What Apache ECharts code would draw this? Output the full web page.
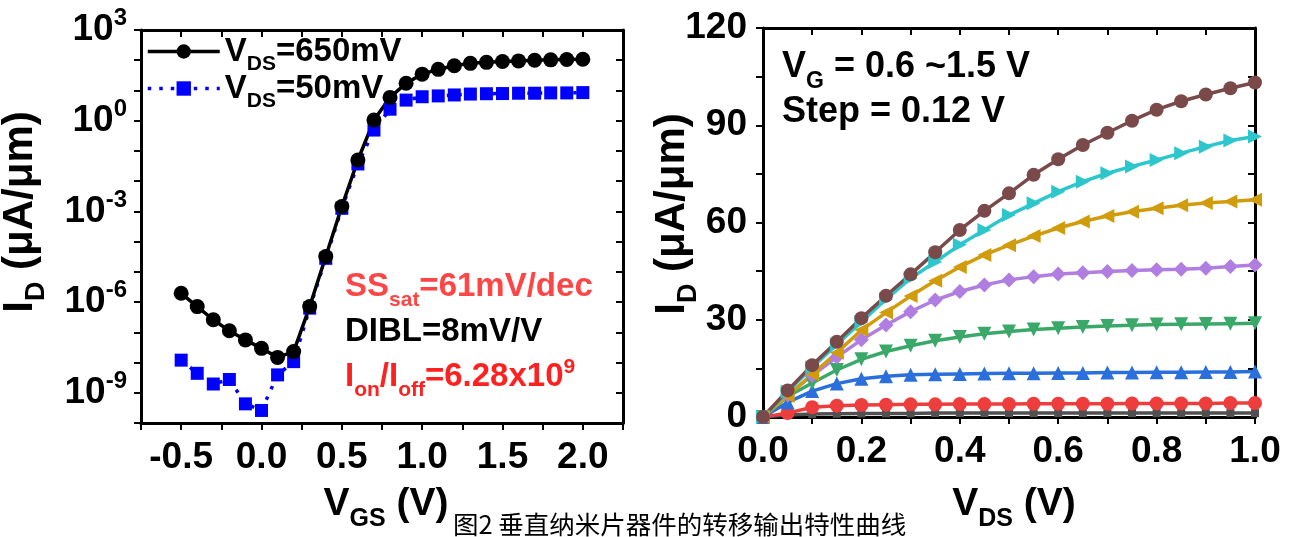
<!DOCTYPE html>
<html>
<head>
<meta charset="utf-8">
<script src="https://cdn.jsdelivr.net/npm/echarts@6/dist/echarts.min.js"></script>
<style>
html, body { margin: 0; padding: 0; background: #fff; }
#chart { width: 1296px; height: 537px; }
</style>
</head>
<body>
<div id="chart"></div>
<script>
// transfer curves, I_D in uA/um against V_GS in V
var vgs = [-0.5, -0.4, -0.3, -0.2, -0.1, 0.0, 0.1, 0.2, 0.3, 0.4, 0.5, 0.6, 0.7, 0.8, 0.9, 1.0, 1.1, 1.2, 1.3, 1.4, 1.5, 1.6, 1.7, 1.8, 1.9, 2.0];
var idVds650 = [1.95e-6, 7.1e-7, 2.6e-7, 1.12e-7, 5.6e-8, 2.95e-8, 1.48e-8, 2.3e-8, 7.1e-7, 3.2e-5, 1.45e-3, 0.05, 1.05, 5.9, 17.4, 34.7, 50, 66, 79, 85, 91, 95, 100, 103, 106, 108];
var idVds50 = [1.2e-8, 4.4e-9, 1.95e-9, 2.75e-9, 4.3e-10, 2.6e-10, 3.9e-9, 1.07e-8, 6.3e-7, 2.8e-5, 1.26e-3, 0.037, 0.49, 2.4, 4.8, 6.2, 6.6, 7.1, 7.6, 7.8, 7.9, 8.1, 8.1, 8.3, 8.3, 8.5];

// output curves, I_D in uA/um against V_DS in V, one list per gate step
var vds = [0, 0.05, 0.1, 0.15, 0.2, 0.25, 0.3, 0.35, 0.4, 0.45, 0.5, 0.55, 0.6, 0.65, 0.7, 0.75, 0.8, 0.85, 0.9, 0.95, 1.0];
var idVg060 = [0, 0.6, 0.9, 1.0, 1.1, 1.1, 1.1, 1.2, 1.2, 1.2, 1.2, 1.2, 1.2, 1.2, 1.2, 1.2, 1.2, 1.2, 1.2, 1.2, 1.2];
var idVg072 = [0, 1.2, 3.0, 3.5, 3.7, 3.8, 3.9, 3.9, 4.0, 4.0, 4.0, 4.1, 4.1, 4.1, 4.1, 4.2, 4.2, 4.2, 4.2, 4.3, 4.3];
var idVg084 = [0, 4.5, 8, 10.3, 11.8, 12.6, 13, 13.2, 13.3, 13.4, 13.5, 13.5, 13.6, 13.6, 13.7, 13.7, 13.8, 13.8, 13.9, 13.9, 14.0];
var idVg096 = [0, 6.3, 10.5, 14.5, 17.8, 20.2, 22, 23.5, 24.7, 25.7, 26.4, 27, 27.4, 27.8, 28.1, 28.3, 28.5, 28.6, 28.7, 28.8, 28.9];
var idVg108 = [0, 6.8, 12.8, 18.5, 23.8, 28.4, 32.5, 36.1, 38.7, 40.7, 42.3, 43.3, 44.1, 44.5, 44.9, 45.2, 45.4, 45.6, 45.9, 46.4, 46.9];
var idVg120 = [0, 6.5, 13.2, 19.8, 26.8, 32.2, 37.3, 42, 46.3, 50, 53, 55.8, 58.3, 60.3, 62, 63.3, 64.4, 65.3, 66, 66.5, 67];
var idVg132 = [0, 7.8, 15.3, 22.4, 29.3, 36.3, 42.8, 47.8, 53.1, 57.7, 62.3, 65.9, 69.5, 72.6, 75.2, 77.3, 79.3, 81.4, 83.4, 85.3, 86.5];
var idVg144 = [0, 8.2, 16, 23.2, 30.5, 37.4, 44, 50.8, 57.7, 63.6, 69, 74.7, 79.5, 83.9, 87.7, 91.4, 94.8, 97.4, 99.5, 101.4, 103.2];

var FONT = 'Liberation Sans';
var chart = echarts.init(document.getElementById('chart'));

function logPairs(ys) {
	return ys.map(function (v, i) { return [vgs[i], Math.log10(v)]; });
}
function pairs(ys) {
	return ys.map(function (v, i) { return [vds[i], v]; });
}
function near(v, step) {
	return Math.abs(v / step - Math.round(v / step)) < 1e-6;
}

// rich text pieces: main text, subscript (pushed down), superscript (pushed up)
function richSet(size, color) {
	return {
		m: { fontFamily: FONT, fontWeight: 'bold', fontSize: size, lineHeight: size, color: color, fill: color },
		sub: { fontFamily: FONT, fontWeight: 'bold', fontSize: Math.round(size * 0.64), lineHeight: Math.round(size * 0.64), padding: [Math.round(size * 0.8), 0, 0, 0], color: color, fill: color },
		sup: { fontFamily: FONT, fontWeight: 'bold', fontSize: Math.round(size * 0.64), lineHeight: Math.round(size * 0.64), padding: [0, 0, Math.round(size * 0.62), 0], color: color, fill: color }
	};
}

var axisLine = { show: true, onZero: false, lineStyle: { color: '#000', width: 3 } };
var tickOut = { show: true, inside: false, length: 7, lineStyle: { color: '#000', width: 2 } };
var tickIn = { show: true, inside: true, length: 7, lineStyle: { color: '#000', width: 2 } };

function mirror(base, pos) {
	return Object.assign({}, base, {
		position: pos,
		axisLine: axisLine,
		axisTick: tickIn,
		axisLabel: { show: false },
		splitLine: { show: false }
	});
}

var leftX = {
	type: 'value', gridIndex: 0, min: -0.75, max: 2.25, interval: 0.25,
	axisLine: axisLine, axisTick: tickOut, splitLine: { show: false },
	axisLabel: {
		margin: 16, color: '#000', fontFamily: FONT, fontWeight: 'bold', fontSize: 37,
		formatter: function (v) { return near(v, 0.5) ? v.toFixed(1) : ''; }
	}
};
var leftY = {
	type: 'value', gridIndex: 0, min: -10, max: 3, interval: 1,
	axisLine: axisLine, axisTick: tickOut, splitLine: { show: false },
	axisLabel: {
		margin: 14,
		formatter: function (v) {
			var e = Math.round(v);
			return e % 3 === 0 ? '{m|10}{sup|' + e + '}' : '';
		},
		rich: richSet(37, '#000')
	}
};
var rightX = {
	type: 'value', gridIndex: 1, min: 0, max: 1, interval: 0.1,
	axisLine: axisLine, axisTick: tickOut, splitLine: { show: false },
	axisLabel: {
		margin: 16, color: '#000', fontFamily: FONT, fontWeight: 'bold', fontSize: 37,
		formatter: function (v) { return near(v, 0.2) ? v.toFixed(1) : ''; }
	}
};
var rightY = {
	type: 'value', gridIndex: 1, min: 0, max: 120, interval: 15,
	axisLine: axisLine, axisTick: tickOut, splitLine: { show: false },
	axisLabel: {
		margin: 16, color: '#000', fontFamily: FONT, fontWeight: 'bold', fontSize: 37,
		formatter: function (v) { return near(v, 30) ? String(v) : ''; }
	}
};

var outStyles = [
	{ data: idVg060, color: '#505050', symbol: 'rect', size: 8, rotate: 0 },
	{ data: idVg072, color: '#ee3d3d', symbol: 'circle', size: 14, rotate: 0 },
	{ data: idVg084, color: '#2a6fdb', symbol: 'triangle', size: 14, rotate: 0 },
	{ data: idVg096, color: '#3aa868', symbol: 'triangle', size: 14, rotate: 180 },
	{ data: idVg108, color: '#b07ee0', symbol: 'diamond', size: 15, rotate: 0 },
	{ data: idVg120, color: '#d19c0c', symbol: 'triangle', size: 14, rotate: 90 },
	{ data: idVg132, color: '#2cc6cc', symbol: 'triangle', size: 14, rotate: -90 },
	{ data: idVg144, color: '#7a4a4a', symbol: 'circle', size: 14, rotate: 0 }
];

var series = [
	{
		name: 'VDS=50mV', type: 'line', xAxisIndex: 0, yAxisIndex: 0,
		data: logPairs(idVds50),
		symbol: 'rect', symbolSize: 13,
		itemStyle: { color: '#0000ff' },
		lineStyle: { color: '#0000ff', width: 3.5, type: [3.5, 8] }
	},
	{
		name: 'VDS=650mV', type: 'line', xAxisIndex: 0, yAxisIndex: 0,
		data: logPairs(idVds650),
		symbol: 'circle', symbolSize: 15,
		itemStyle: { color: '#000' },
		lineStyle: { color: '#000', width: 3.5 }
	}
];
outStyles.forEach(function (s) {
	series.push({
		type: 'line', xAxisIndex: 2, yAxisIndex: 2,
		data: pairs(s.data),
		symbol: s.symbol, symbolSize: s.size, symbolRotate: s.rotate,
		itemStyle: { color: s.color },
		lineStyle: { color: s.color, width: 3.5 }
	});
});

function legendItem(name, text, top, dash) {
	return {
		data: [name], left: 146, top: top, padding: 0, itemGap: 0,
		itemWidth: 72, itemHeight: 18,
		lineStyle: { width: 3.5, type: dash },
		formatter: function () { return text; },
		textStyle: { rich: richSet(33, '#000') }
	};
}

function label(x, y, text, size, color) {
	return {
		type: 'text', x: x, y: y,
		style: { text: text, rich: richSet(size, color), align: 'left', verticalAlign: 'middle' }
	};
}

chart.setOption({
	animation: false,
	backgroundColor: '#fff',
	grid: [
		{ left: 141, top: 30, width: 482, height: 393, containLabel: false, outerBoundsMode: 'none' },
		{ left: 763, top: 28, width: 492, height: 389, containLabel: false, outerBoundsMode: 'none' }
	],
	xAxis: [leftX, mirror(leftX, 'top'), rightX, mirror(rightX, 'top')],
	yAxis: [leftY, mirror(leftY, 'right'), rightY, mirror(rightY, 'right')],
	legend: [
		legendItem('VDS=650mV', '{m|V}{sub|DS}{m|=650mV}', 28, 'solid'),
		legendItem('VDS=50mV', '{m|V}{sub|DS}{m|=50mV}', 65, [3.5, 8])
	],
	graphic: [
		{
			type: 'text', x: 20, y: 212, rotation: Math.PI / 2,
			style: { text: '{m|I}{sub|D}{m| (μA/μm)}', rich: richSet(42, '#000'), align: 'center', verticalAlign: 'middle' }
		},
		{
			type: 'text', x: 672, y: 214, rotation: Math.PI / 2,
			style: { text: '{m|I}{sub|D}{m| (μA/μm)}', rich: richSet(42, '#000'), align: 'center', verticalAlign: 'middle' }
		},
		{
			type: 'text', x: 386, y: 504,
			style: { text: '{m|V}{sub|GS}{m| (V)}', rich: richSet(39, '#000'), align: 'center', verticalAlign: 'middle' }
		},
		{
			type: 'text', x: 1014, y: 504,
			style: { text: '{m|V}{sub|DS}{m| (V)}', rich: richSet(39, '#000'), align: 'center', verticalAlign: 'middle' }
		},
		label(345, 287, '{m|SS}{sub|sat}{m|=61mV/dec}', 33, '#ff4545'),
		label(345, 332, '{m|DIBL=8mV/V}', 33, '#000'),
		label(345, 377, '{m|I}{sub|on}{m|/I}{sub|off}{m|=6.28x10}{sup|9}', 33, '#ff2020'),
		label(782, 67, '{m|V}{sub|G}{m| = 0.6 ~1.5 V}', 36, '#000'),
		label(782, 112, '{m|Step = 0.12 V}', 36, '#000'),
		{
			type: 'text', x: 453, y: 524,
			style: { text: '图2 垂直纳米片器件的转移输出特性曲线', fill: '#000', font: '25.5px "Noto Sans CJK SC"', align: 'left', verticalAlign: 'middle' }
		}
	],
	series: series
});
</script>
</body>
</html>
